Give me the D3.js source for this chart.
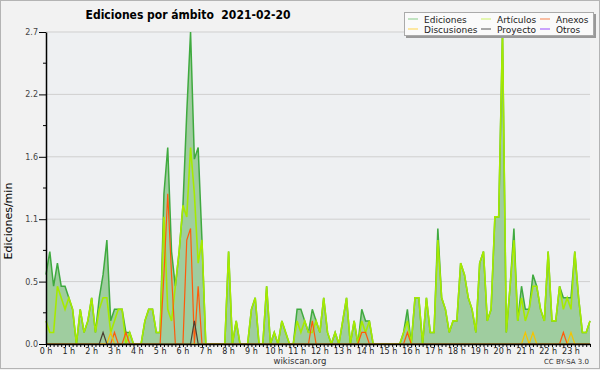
<!DOCTYPE html>
<html>
<head>
<meta charset="utf-8">
<script src="https://cdn.jsdelivr.net/npm/d3@7"></script>
<style>
  body { margin: 0; background: #f2f2f2; }
  svg { display: block; }
  text { font-family: "DejaVu Sans", sans-serif; }
</style>
</head>
<body>
<svg id="chart" width="600" height="370"></svg>
<script>
// one value every 10 minutes, in edits per minute (144 slots)
const hours = d3.range(24).map(h => h + " h");

const ediciones = [
  0.6,0.8,0.5,0.7,0.5,0.5,0.4,0.3,0.0,0.3,
  0.1,0.2,0.4,0.1,0.4,0.6,0.9,0.2,0.3,0.3,
  0.3,0.1,0.1,0.0,0.0,0.0,0.2,0.3,0.3,0.1,
  0.1,1.3,1.7,0.8,0.5,0.8,1.2,2.0,2.7,1.6,
  1.7,0.9,0.0,0.0,0.0,0.0,0.0,0.0,0.8,0.0,
  0.2,0.0,0.0,0.0,0.3,0.4,0.0,0.0,0.5,0.0,
  0.1,0.0,0.2,0.1,0.0,0.0,0.3,0.3,0.2,0.1,
  0.3,0.2,0.1,0.4,0.1,0.0,0.1,0.0,0.2,0.4,
  0.0,0.2,0.0,0.3,0.2,0.2,0.0,0.0,0.0,0.0,
  0.0,0.0,0.0,0.0,0.1,0.3,0.0,0.4,0.4,0.0,
  0.4,0.1,0.1,1.0,0.4,0.3,0.1,0.2,0.2,0.7,
  0.6,0.4,0.3,0.1,0.7,0.8,0.2,0.3,1.1,1.1,
  2.7,0.1,0.5,1.0,0.2,0.5,0.3,0.3,0.6,0.5,
  0.3,0.2,0.8,0.2,0.2,0.5,0.4,0.4,0.4,0.8,
  0.4,0.1,0.1,0.2
];
const articulos = [
  0.2,0.1,0.1,0.5,0.4,0.3,0.4,0.3,0.0,0.3,
  0.1,0.2,0.4,0.1,0.3,0.4,0.4,0.1,0.2,0.3,
  0.3,0.0,0.1,0.0,0.0,0.0,0.2,0.3,0.3,0.1,
  0.1,1.1,0.3,0.2,0.5,0.8,1.2,1.1,1.7,1.3,
  0.7,0.9,0.0,0.0,0.0,0.0,0.0,0.0,0.8,0.0,
  0.2,0.0,0.0,0.0,0.3,0.4,0.0,0.0,0.5,0.0,
  0.1,0.0,0.2,0.1,0.0,0.0,0.2,0.1,0.2,0.1,
  0.1,0.2,0.1,0.4,0.1,0.0,0.1,0.0,0.2,0.4,
  0.0,0.2,0.0,0.2,0.1,0.2,0.0,0.0,0.0,0.0,
  0.0,0.0,0.0,0.0,0.1,0.2,0.0,0.4,0.4,0.0,
  0.4,0.1,0.1,0.9,0.4,0.3,0.1,0.2,0.2,0.7,
  0.6,0.4,0.3,0.1,0.7,0.8,0.2,0.3,1.1,1.1,
  2.7,0.1,0.5,0.9,0.2,0.4,0.2,0.3,0.5,0.5,
  0.3,0.2,0.8,0.2,0.2,0.5,0.3,0.4,0.3,0.8,
  0.4,0.1,0.1,0.2
];
// sparse series: [slot, value]
const anexos = [[18,0.1],[21,0.1],[31,0.6],[32,1.3],[33,0.6],[37,0.9],[38,1.0],[40,0.5],[70,0.2],[83,0.1],[84,0.1],[95,0.1],[136,0.1]];
const discusiones = [[17,0.1],[126,0.1],[128,0.1],[138,0.1]];
const proyecto = [[15,0.1],[39,0.2]];
const otros = [];

const yMax = 2.7;

function dense(pairs) {
  const a = new Array(144).fill(0);
  pairs.forEach(p => { a[p[0]] = p[1]; });
  return a;
}

const svg = d3.select("#chart");
const margin = {left: 46, right: 10, top: 32, bottom: 26};
const W = 600, H = 370;

const x = d3.scaleLinear().domain([0, 143]).range([margin.left, W - margin.right]);
const y = d3.scaleLinear().domain([0, yMax]).range([H - margin.bottom, margin.top]);

// frame
svg.append("rect").attr("x", 0.5).attr("y", 0.5).attr("width", W - 1).attr("height", H - 2)
  .attr("fill", "#f2f2f2").attr("stroke", "#b4b4b4");
svg.append("rect").attr("x", margin.left).attr("y", margin.top)
  .attr("width", W - margin.right - margin.left).attr("height", y(0) - margin.top)
  .attr("fill", "#eef0f2");

// grid
const majors = d3.range(6).map(k => yMax * k / 5);
const minors = d3.range(11).map(k => yMax * k / 10);
svg.append("g").selectAll("line").data(majors.slice(1)).join("line")
  .attr("x1", margin.left).attr("x2", W - margin.right)
  .attr("y1", d => y(d)).attr("y2", d => y(d))
  .attr("stroke", "#cfcfcf").attr("stroke-width", 1);

// series
const line = d3.line().x((d, i) => x(i)).y(d => y(d));
const area = d3.area().x((d, i) => x(i)).y0(y(0)).y1(d => y(d));

svg.append("path").datum(ediciones).attr("d", area).attr("fill", "#9fcd9f");
svg.append("path").datum(ediciones).attr("d", line).attr("fill", "none")
  .attr("stroke", "#3faa3f").attr("stroke-width", 1.5);
svg.append("path").datum(articulos).attr("d", line).attr("fill", "none")
  .attr("stroke", "#a6ea00").attr("stroke-width", 1.6);

const others = [
  {data: anexos, color: "#ff5a0a"},
  {data: discusiones, color: "#f5c400"},
  {data: proyecto, color: "#4a3f33"},
  {data: otros, color: "#9a3cff"}
];
others.forEach(s => {
  if (!s.data.length) return;
  svg.append("path").datum(dense(s.data)).attr("d", line).attr("fill", "none")
    .attr("stroke", s.color).attr("stroke-width", 1.2);
});

// axes
const yAxis = d3.axisLeft(y).tickValues(majors).tickFormat(d3.format(".1f")).tickSize(7).tickSizeOuter(0);
const gy = svg.append("g").attr("transform", `translate(${margin.left},0)`).call(yAxis);
gy.selectAll(".tick text").attr("font-size", 8).attr("fill", "#444").attr("x", -8);
gy.append("g").selectAll("line").data(minors.filter((d, k) => k % 2)).join("line")
  .attr("x1", -3).attr("x2", 0).attr("y1", d => y(d)).attr("y2", d => y(d)).attr("stroke", "#000");

const xAxis = d3.axisBottom(x).tickValues(d3.range(144)).tickFormat("").tickSize(3).tickSizeOuter(0);
const gx = svg.append("g").attr("transform", `translate(0,${y(0)})`).call(xAxis);
gx.select(".domain").attr("stroke-width", 1.5);
gx.append("g").selectAll("text").data(hours).join("text")
  .attr("x", (d, h) => x(h * 6)).attr("y", 10)
  .attr("text-anchor", "middle").attr("font-size", 8).attr("fill", "#222")
  .text(d => d);
gy.select(".domain").attr("stroke-width", 1.5);

// titles
svg.append("text").attr("x", 188).attr("y", 19).attr("text-anchor", "middle")
  .attr("font-size", 12).attr("font-weight", "bold").attr("font-stretch", "condensed")
  .style("font-family", "'DejaVu Sans Condensed', 'DejaVu Sans', sans-serif")
  .attr("xml:space", "preserve").text("Ediciones por ámbito  2021-02-20");
svg.append("text").attr("transform", "translate(12,221) rotate(-90)")
  .attr("text-anchor", "middle").attr("font-size", 11).text("Ediciones/min");
svg.append("text").attr("x", 300).attr("y", 364).attr("text-anchor", "middle")
  .attr("font-size", 8.5).attr("fill", "#333").text("wikiscan.org");
svg.append("text").attr("x", 589).attr("y", 364).attr("text-anchor", "end")
  .attr("font-size", 7).attr("fill", "#333").text("CC BY-SA 3.0");

// legend
const legend = [
  {name: "Ediciones", color: "#88cc88", col: 0, row: 0},
  {name: "Discusiones", color: "#ffd54a", col: 0, row: 1},
  {name: "Artículos", color: "#ccf266", col: 1, row: 0},
  {name: "Proyecto", color: "#555", col: 1, row: 1},
  {name: "Anexos", color: "#f7814d", col: 2, row: 0},
  {name: "Otros", color: "#9a4cff", col: 2, row: 1}
];
const colX = [408, 481, 540];
svg.append("rect").attr("x", 406).attr("y", 14).attr("width", 190).attr("height", 24).attr("fill", "#999");
svg.append("rect").attr("x", 404.5).attr("y", 12.5).attr("width", 189).attr("height", 23)
  .attr("fill", "#fafafa").attr("stroke", "#aaa");
const lg = svg.append("g").selectAll("g").data(legend).join("g")
  .attr("transform", d => `translate(${colX[d.col]},${19 + d.row * 10})`);
lg.append("line").attr("x1", 0).attr("x2", 10).attr("stroke", d => d.color);
lg.append("text").attr("x", 16).attr("y", 3.5).attr("font-size", 9).attr("fill", "#222").text(d => d.name);
</script>
</body>
</html>
